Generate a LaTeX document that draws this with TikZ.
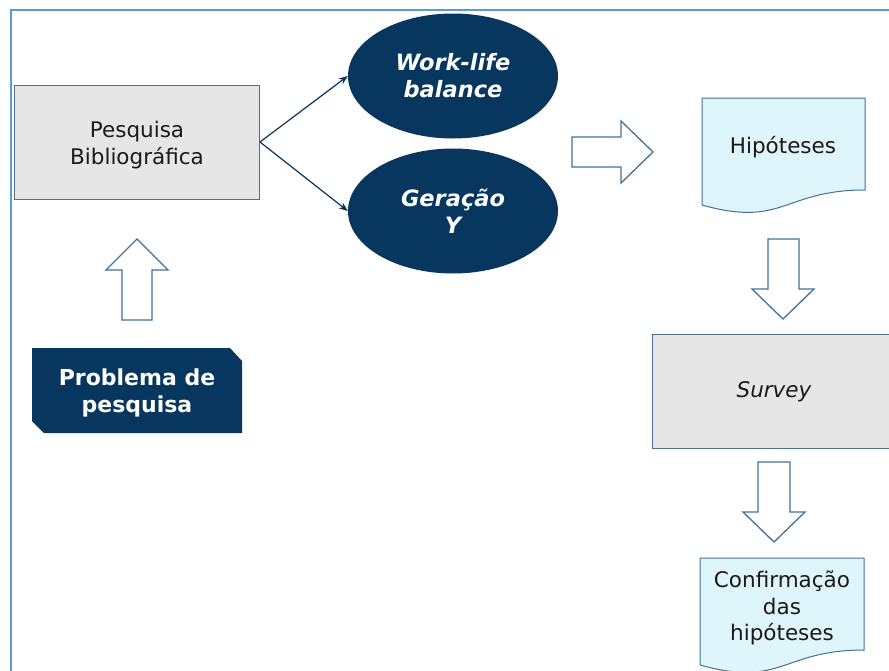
\documentclass[tikz,border=0pt]{standalone}
\usepackage{fontspec}
\setmainfont{DejaVu Sans}
\usetikzlibrary{shapes.geometric,arrows.meta}
\definecolor{navy}{HTML}{07375E}
\definecolor{framec}{HTML}{5B9BD5}
\definecolor{boxgray}{HTML}{E6E6E6}
\definecolor{boxedge}{HTML}{4F6F8F}
\definecolor{arrowedge}{HTML}{41719C}
\definecolor{docfill}{HTML}{DEF5FC}
\definecolor{textc}{HTML}{1A1A1A}
\tikzset{
  graybox/.style={draw=boxedge, fill=boxgray, line width=1pt, inner sep=0pt},
  navyell/.style={ellipse, fill=navy, draw=none, inner sep=0pt, minimum width=210pt, minimum height=125pt,
     text=white, align=center, font=\fontsize{22.5}{27}\selectfont\bfseries\itshape},
  bodytext/.style={text=textc, align=center, font=\fontsize{21.5}{26.5}\selectfont},
  blockarrow/.style={draw=arrowedge, fill=white, line width=1.3pt, line join=miter},
  docshape/.style={draw=arrowedge, fill=docfill, line width=1pt},
  link/.style={draw=navy, line width=1.2pt, -{Stealth[length=9pt,width=7pt]}}
}
\begin{document}
\begin{tikzpicture}[x=1pt,y=-1pt]
\useasboundingbox (0,0) rectangle (889,670);
\clip (0,0) rectangle (889,670);
% frame
\draw[framec, line width=2pt] (11,10) rectangle (920,720);

% Pesquisa box
\node[graybox, minimum width=245pt, minimum height=114pt] (pesq) at (137,142) {};
\node[bodytext] (pesqt) at (137,145) {Pesquisa\\Bibliográfica};

% ellipses
\node[navyell] (wl) at (453,76) {Work-life\\balance};
\node[navyell] (gy) at (453,211) {Geração\\Y};
\draw[link] (pesq.east) -- (wl.west);
\draw[link] (pesq.east) -- (gy.west);

% up block arrow
\draw[blockarrow] (122,320) -- (122,270) -- (106,270) -- (137,239) -- (168,270) -- (152,270) -- (152,320) -- cycle;

% Problema box (snipped corners)
\path[fill=navy] (32,348) -- (230,348) -- (242,361) -- (242,433) -- (44,433) -- (32,421) -- cycle;
\node[text=white, align=center, font=\fontsize{22}{27}\selectfont\bfseries] (prob) at (137,393) {Problema de\\pesquisa};

% right block arrow
\draw[blockarrow] (572,137) -- (621,137) -- (621,121) -- (653,152) -- (621,183) -- (621,167) -- (572,167) -- cycle;

% Hipoteses document
\draw[docshape] (702,98) -- (865,98) -- (865,190) .. controls (783.5,190) and (783.5,228) .. (702,205) -- cycle;
\node[bodytext] (hip) at (783,147) {Hipóteses};

% down block arrow 1
\draw[blockarrow] (768,239) -- (799,239) -- (799,289) -- (814,289) -- (783,319) -- (752,289) -- (768,289) -- cycle;

% Survey box
\node[graybox, minimum width=244pt, minimum height=114pt] (surv) at (774,391) {};
\node[bodytext, font=\fontsize{21.5}{26.5}\selectfont\itshape] (survt) at (774,392) {Survey};

% down block arrow 2
\draw[blockarrow] (758,462) -- (790,462) -- (790,512) -- (805,512) -- (774,542) -- (743,512) -- (758,512) -- cycle;

% Confirmacao document
\draw[docshape] (700,558) -- (864,558) -- (864,650) .. controls (782,650) and (782,688) .. (700,665) -- cycle;
\node[bodytext] (conf) at (782,608) {Confirmação\\das\\hipóteses};
\end{tikzpicture}
\end{document}
